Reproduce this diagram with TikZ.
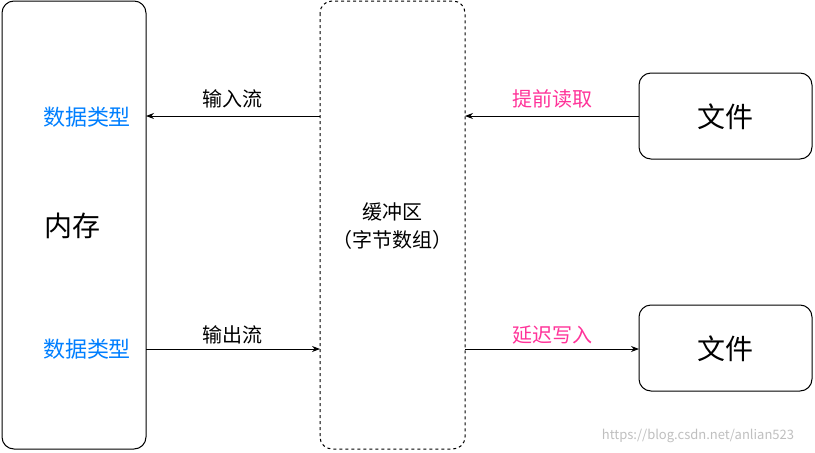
\documentclass[tikz,border=0pt]{standalone}
\usepackage{fontspec}
\usetikzlibrary{arrows.meta}
\setmainfont{Noto Sans CJK SC}
\begin{document}
\begin{tikzpicture}[x=1pt,y=-1pt,
  box/.style={draw,line width=1pt,rounded corners=12pt},
  arr/.style={-{Stealth[length=8pt,width=6pt]},line width=0.8pt},
  lbl/.style={font=\fontsize{20}{24}\selectfont},
  big/.style={font=\fontsize{28}{32}\selectfont},
  pink/.style={text={rgb,255:red,255;green,51;blue,153}},
  blue/.style={text={rgb,255:red,0;green,127;blue,255}}]
\useasboundingbox (0,0) rectangle (815,453);
\draw[box] (2,1) rectangle (146,449);
\draw[box,dashed] (320,1) rectangle (465,449);
\draw[box] (639,73) rectangle (812,159);
\draw[box] (639,305) rectangle (812,391);
\coordinate (L1) at (146,116); \coordinate (M1l) at (320,116);
\coordinate (M1r) at (465,116); \coordinate (R1) at (639,116);
\coordinate (L2) at (146,349); \coordinate (M2l) at (320,349);
\coordinate (M2r) at (465,349); \coordinate (R2) at (639,349);
\draw[arr] (M1l) -- (L1);
\draw[arr] (R1) -- (M1r);
\draw[arr] (L2) -- (M2l);
\draw[arr] (M2r) -- (R2);
\node[lbl] (a) at (232,99) {输入流};
\node[lbl,pink] (b) at (552,99) {提前读取};
\node[lbl] (c) at (232,335) {输出流};
\node[lbl,pink] (d) at (552,335) {延迟写入};
\node[lbl,blue,font=\fontsize{22}{24}\selectfont] (e) at (87,117) {数据类型};
\node[lbl,blue,font=\fontsize{22}{24}\selectfont] (f) at (87,349) {数据类型};
\node[big] (g) at (73,226) {内存};
\node[lbl,align=center,font=\fontsize{20}{28}\selectfont] (h) at (392,226) {缓冲区\\（字节数组）};
\node[big] (i) at (725,117) {文件};
\node[big] (j) at (725,349) {文件};
\node[font=\fontsize{13}{14}\selectfont,text=gray!50] (w) at (698,436) {https://blog.csdn.net/anlian523};
\end{tikzpicture}
\end{document}
